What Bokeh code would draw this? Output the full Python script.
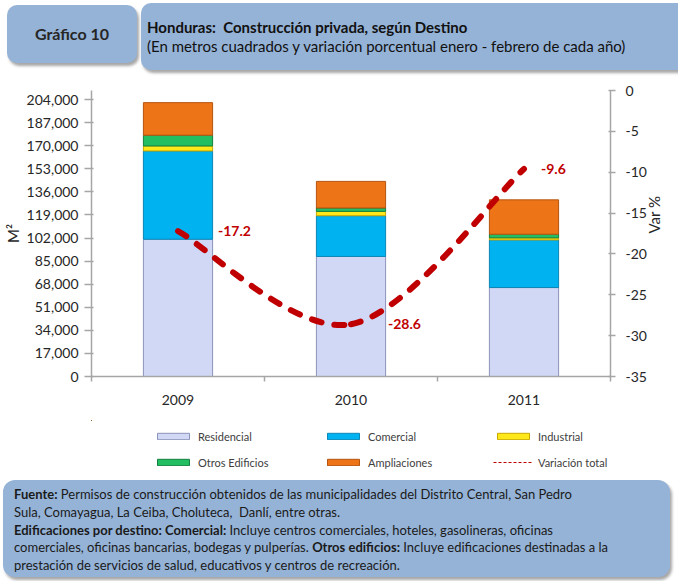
import math
from bokeh.plotting import figure
from bokeh.models import (Range1d, LinearAxis, FixedTicker, NumeralTickFormatter,
                          Legend, LegendItem, ColumnDataSource, Div)
from bokeh.layouts import column
from bokeh.core.properties import value
from bokeh.embed import file_html
from bokeh.resources import INLINE

# ---------------- data ----------------
years = ["2009", "2010", "2011"]
residencial = [101100, 88400, 65500]
comercial = [65000, 30000, 35100]
industrial = [3700, 3200, 1500]
otros_edificios = [7900, 2500, 2700]
ampliaciones = [24000, 19600, 25300]
variacion_total = [-17.2, -28.6, -9.6]

series_labels = ["Residencial", "Comercial", "Industrial", "Otros Edificios", "Ampliaciones"]
line_label = "Variación total"
m2_ticks = list(range(0, 204001, 17000))
var_ticks = list(range(-35, 1, 5))

header_left = "Gráfico 10"
title_text = "Honduras:  Construcción privada, según Destino"
subtitle_text = "(En metros cuadrados y variación porcentual enero - febrero de cada año)"
y_title_left = "M²"
y_title_right = "Var %"

footer_lines = [
    [("Fuente:", True), (" Permisos de construcción obtenidos de las municipalidades del Distrito Central, San Pedro", False)],
    [("Sula, Comayagua, La Ceiba, Choluteca,  Danlí, entre otras.", False)],
    [("Edificaciones por destino: Comercial:", True), (" Incluye centros comerciales, hoteles, gasolineras, oficinas", False)],
    [("comerciales, oficinas bancarias, bodegas y pulperías. ", False), ("Otros edificios:", True), (" Incluye edificaciones destinadas a la", False)],
    [("prestación de servicios de salud, educativos y centros de recreación.", False)],
]

# ---------------- style ----------------
FONT = "Lato"
TXT = "#262626"
AXC = "#A6A6A6"
RED = "#C00000"
BOX = "#95B3D7"
fills = ["#D0D8F5", "#00B2F0", "#FFE81A", "#24BE62", "#EE7418"]
edges = ["#8C93B8", "#0C86B6", "#C9A800", "#13803F", "#B4540F"]
W = 678
BORDER_L, BORDER_R = 87, 68

# ---------------- header (HTML) ----------------
box_css = ("position:absolute;background:%s;border-radius:10px;"
           "box-shadow:2px 3px 3px rgba(0,0,0,0.35);" % BOX)
header_html = (
    '<div style="position:relative;width:%dpx;height:82px;overflow:hidden;'
    'font-family:Lato, sans-serif;">' % W
    + '<div style="%sleft:7px;top:5px;width:130px;height:58px;display:flex;'
      'align-items:center;justify-content:center;font-weight:bold;font-size:16px;'
      'color:%s;">%s</div>' % (box_css, TXT, header_left)
    + '<div style="%sleft:141px;top:3px;width:560px;height:67px;color:#111;">' % box_css
    + '<div style="position:absolute;left:6px;top:16px;line-height:16px;font-weight:bold;'
      'font-size:15px;white-space:pre;">%s</div>' % title_text
    + '<div style="position:absolute;left:6px;top:35px;line-height:16px;'
      'font-size:15px;white-space:pre;">%s</div>' % subtitle_text
    + '</div></div>'
)
hdr = Div(text=header_html, width=W, height=82, margin=0)

# ---------------- main chart ----------------
n = len(years)
centers = [i + 0.5 for i in range(n)]
p = figure(width=W, height=338, x_range=Range1d(0, n), y_range=Range1d(0, 210630),
           output_backend="svg", toolbar_location=None,
           min_border_left=BORDER_L, min_border_right=BORDER_R, min_border_top=8,
           min_border_bottom=44, outline_line_color=None)
p.xgrid.visible = False
p.ygrid.visible = False
p.extra_y_ranges = {"var": Range1d(-35, 0)}

stack_src = ColumnDataSource(dict(x=centers, **{lab: vals for lab, vals in zip(
    series_labels, [residencial, comercial, industrial, otros_edificios, ampliaciones])}))
bars = p.vbar_stack(series_labels, x="x", width=0.4, source=stack_src,
                    fill_color=fills, line_color=edges, line_width=1)

# smoothed (Excel-style) line through the variation values
bz = dict(x0=[], y0=[], x1=[], y1=[], cx0=[], cy0=[], cx1=[], cy1=[])
v = variacion_total
for i in range(n - 1):
    a = max(i - 1, 0)
    d = min(i + 2, n - 1)
    bz["x0"].append(centers[i]); bz["y0"].append(v[i])
    bz["x1"].append(centers[i + 1]); bz["y1"].append(v[i + 1])
    bz["cx0"].append(centers[i] + (centers[i + 1] - centers[a]) / 6)
    bz["cy0"].append(v[i] + (v[i + 1] - v[a]) / 6)
    bz["cx1"].append(centers[i + 1] - (centers[d] - centers[i]) / 6)
    bz["cy1"].append(v[i + 1] - (v[d] - v[i]) / 6)
p.bezier(x0="x0", y0="y0", x1="x1", y1="y1", cx0="cx0", cy0="cy0", cx1="cx1", cy1="cy1",
         source=ColumnDataSource(bz), y_range_name="var", line_color=RED,
         line_width=6, line_dash="10 13", line_cap="round")

lab_src = ColumnDataSource(dict(x=centers, y=variacion_total,
                                text=[f"{val:.1f}" for val in variacion_total],
                                dx=[40, 37, 17]))
p.text(x="x", y="y", text="text", x_offset="dx", source=lab_src, y_range_name="var",
       text_font=value(FONT), text_font_style="bold", text_font_size="14px",
       text_color=RED, text_align="left", text_baseline="middle")

# axes
xa = p.xaxis[0]
xa.ticker = FixedTicker(ticks=centers, minor_ticks=list(range(n + 1)))
xa.major_label_overrides = {c: yr for c, yr in zip(centers, years)}
xa.major_tick_line_color = None
xa.major_tick_out = 5
xa.minor_tick_out = 5
xa.minor_tick_in = 0
xa.minor_tick_line_color = AXC
xa.minor_tick_line_width = 1.5
xa.major_label_standoff = 13

ya = p.yaxis[0]
ya.ticker = FixedTicker(ticks=m2_ticks)
ya.formatter = NumeralTickFormatter(format="0,0")
ya.major_tick_out = 7
ya.major_tick_in = 2
ya.major_label_standoff = 6
ya.axis_label = y_title_left
ya.axis_label_standoff = 2

ra = LinearAxis(y_range_name="var", ticker=FixedTicker(ticks=var_ticks),
                formatter=NumeralTickFormatter(format="0"))
ra.major_tick_out = 5
ra.major_tick_in = 2
ra.major_label_standoff = 10
ra.axis_label = y_title_right
ra.axis_label_standoff = 4
if "axis_label_orientation" in ra.properties():
    ra.axis_label_orientation = math.pi / 2
p.add_layout(ra, "right")

for ax in [xa, ya, ra]:
    ax.axis_line_color = AXC
    ax.axis_line_width = 1.5
    ax.major_label_text_font = FONT
    ax.major_label_text_font_size = "14px"
    ax.major_label_text_color = TXT
    ax.axis_label_text_font = FONT
    ax.axis_label_text_font_size = "15px"
    ax.axis_label_text_font_style = "normal"
    ax.axis_label_text_color = TXT
for ax in [ya, ra]:
    ax.major_tick_line_color = AXC
    ax.major_tick_line_width = 1.5
    ax.minor_tick_line_color = None

# ---------------- legend strip ----------------
# key renderers use the chart's own data, kept outside this strip's visible ranges;
# the strip's frame is aligned with the chart's frame (x 87..610)
lg = figure(width=W, height=56, x_range=Range1d(10, 11), y_range=Range1d(-2, -1),
            x_axis_type=None, y_axis_type=None, output_backend="svg",
            toolbar_location=None, min_border_left=BORDER_L, min_border_right=BORDER_R,
            min_border_top=0, min_border_bottom=0, outline_line_color=None)
key_bars = lg.vbar_stack(series_labels, x="x", width=0.4, source=stack_src,
                         fill_color=fills, line_color=edges, line_width=1)
key_line = lg.line(x=centers, y=variacion_total, line_color=RED, line_width=1.2,
                   line_dash="3 2")
items = [LegendItem(label=lab, renderers=[r]) for lab, r in zip(series_labels, key_bars)]
items.append(LegendItem(label=line_label, renderers=[key_line]))
legend = Legend(items=items, location=(62, 4), orientation="horizontal", ncols=3,
                glyph_width=40, glyph_height=8, label_standoff=5, label_width=119,
                label_height=20, spacing=6, padding=0, margin=0,
                border_line_color=None, background_fill_alpha=0,
                label_text_font=FONT, label_text_font_size="11px",
                label_text_color="#404040")
lg.add_layout(legend)

# ---------------- footer (HTML) ----------------
lines_html = []
for pieces in footer_lines:
    parts = []
    for txt, bold in pieces:
        parts.append("<b>%s</b>" % txt if bold else txt)
    lines_html.append("".join(parts))
footer_html = (
    '<div style="position:relative;width:%dpx;height:105px;overflow:hidden;'
    'font-family:Lato, sans-serif;">' % W
    + '<div style="%sleft:3px;top:4px;width:667px;height:97px;box-sizing:border-box;'
      'padding:6px 8px 0 11px;font-size:13px;line-height:17.75px;color:#1A1A1A;'
      'white-space:pre;">' % box_css.replace("10px", "12px")
    + "<br>".join(lines_html)
    + '</div></div>'
)
ftr = Div(text=footer_html, width=W, height=105, margin=0)

layout = column(hdr, p, lg, ftr, spacing=0)
open("out.html", "w").write(file_html(layout, INLINE))
